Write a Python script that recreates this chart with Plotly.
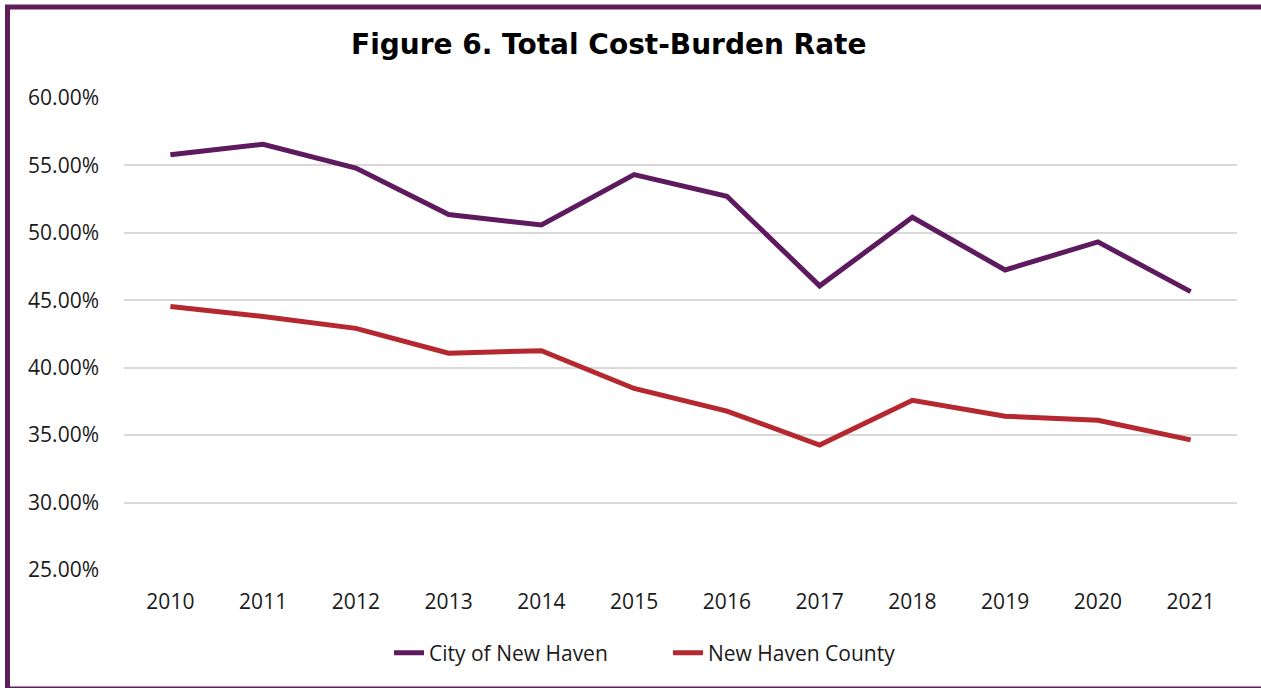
import plotly.graph_objects as go

years = ["2010", "2011", "2012", "2013", "2014", "2015", "2016", "2017", "2018", "2019", "2020", "2021"]
city_new_haven = [55.79, 56.57, 54.80, 51.36, 50.58, 54.32, 52.71, 46.07, 51.15, 47.25, 49.33, 45.64]
new_haven_county = [44.54, 43.79, 42.92, 41.08, 41.26, 38.46, 36.78, 34.27, 37.58, 36.40, 36.10, 34.65]
y_ticks = [25, 30, 35, 40, 45, 50, 55, 60]
y_tick_labels = ["25.00%", "30.00%", "35.00%", "40.00%", "45.00%", "50.00%", "55.00%", "60.00%"]

W, H = 1261, 688
ML, MR, MT, MB = 124, 24, 98, 118
PW, PH = W - ML - MR, H - MT - MB

def px_x(px):
    return (px - ML) / PW

def px_y(py):
    return (H - MB - py) / PH

PURPLE = "#5E1A5F"
RED = "#B5282F"
FONT = "Open Sans"

fig = go.Figure()
fig.add_trace(go.Scatter(x=years, y=city_new_haven, mode="lines", name="City of New Haven",
                         line=dict(color=PURPLE, width=5)))
fig.add_trace(go.Scatter(x=years, y=new_haven_county, mode="lines", name="New Haven County",
                         line=dict(color=RED, width=5)))

fig.update_layout(
    width=W, height=H,
    margin=dict(l=ML, r=MR, t=MT, b=MB, pad=0),
    paper_bgcolor="white", plot_bgcolor="white",
    font=dict(family=FONT, size=21, color="#1a1a1a"),
    showlegend=True,
    legend=dict(orientation="h", x=px_x(389), y=px_y(653), xanchor="left", yanchor="middle",
                entrywidth=234, entrywidthmode="pixels",
                font=dict(family=FONT, size=21, color="#1a1a1a"),
                traceorder="normal", bgcolor="rgba(0,0,0,0)"),
    xaxis=dict(type="category", range=[-0.5, len(years) - 0.5], showgrid=False, showline=False,
               zeroline=False, ticks="", ticklabelstandoff=17, tickfont=dict(size=21)),
    yaxis=dict(range=[25, 60], tickvals=y_ticks, ticktext=y_tick_labels,
               showgrid=True, gridcolor="#d9d9d9", gridwidth=1.5, zeroline=False,
               showline=False, ticks="", ticklabelstandoff=24, tickfont=dict(size=21)),
    annotations=[dict(text="<b>Figure 6. Total Cost-Burden Rate</b>", xref="paper", yref="paper",
                      x=px_x(608), y=px_y(44), xanchor="center", yanchor="middle", showarrow=False,
                      font=dict(family="DejaVu Sans", size=28, color="#000000"))],
    shapes=[dict(type="rect", xref="paper", yref="paper",
                 x0=px_x(7.5), x1=px_x(1268), y0=px_y(689), y1=px_y(7),
                 line=dict(color="#5E1F58", width=5), fillcolor="rgba(0,0,0,0)", layer="above")],
)

fig.write_html("out.html", config={"displayModeBar": False},
               post_script="document.body.style.margin='0';")
